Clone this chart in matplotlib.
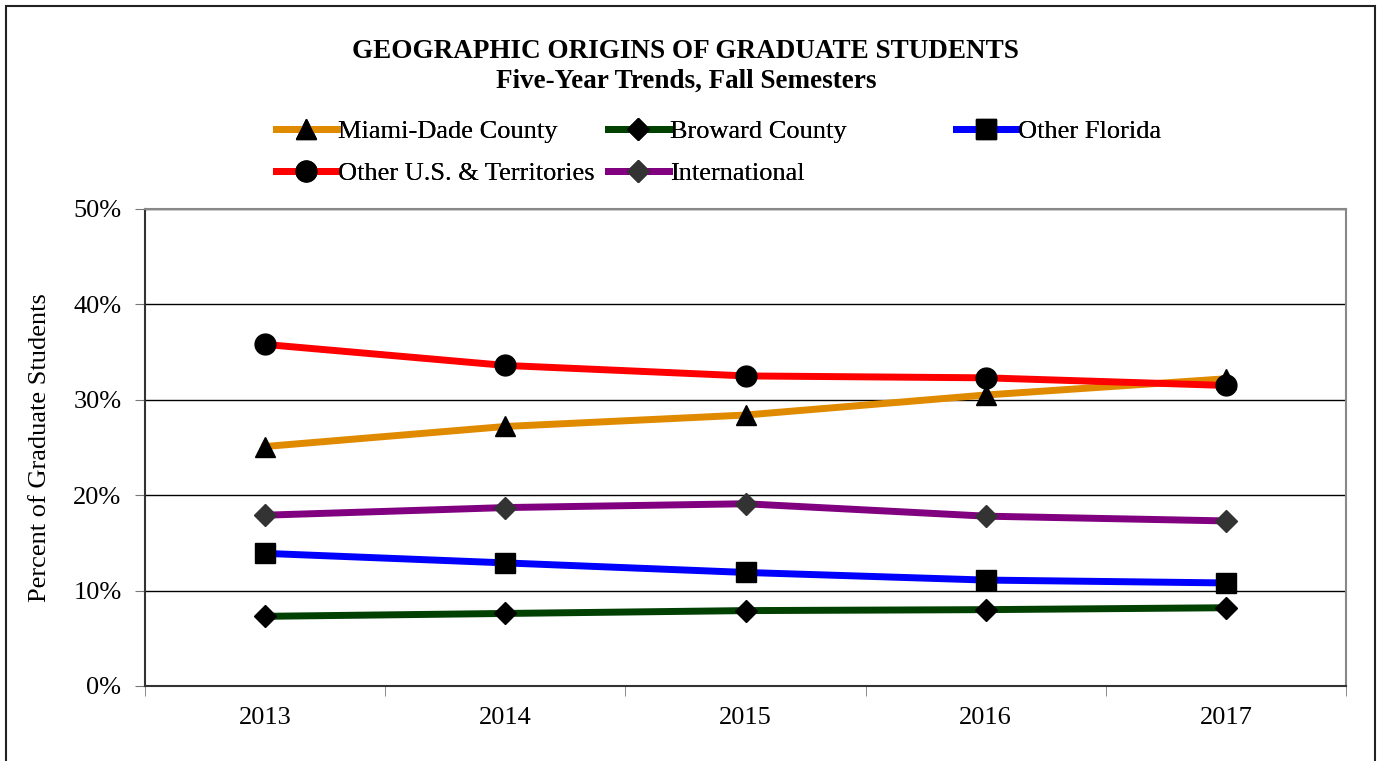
import numpy as np
import matplotlib.pyplot as plt
from matplotlib.patches import Rectangle

plt.rcParams['font.family'] = ['Liberation Serif', 'DejaVu Serif']

# data (percent of graduate students, fall semesters)
years = ["2013", "2014", "2015", "2016", "2017"]
miami_dade = [25.1, 27.2, 28.4, 30.5, 32.2]
broward = [7.3, 7.6, 7.9, 8.0, 8.2]
other_florida = [13.9, 12.9, 11.9, 11.1, 10.8]
other_us = [35.8, 33.6, 32.5, 32.3, 31.5]
international = [17.9, 18.7, 19.1, 17.8, 17.3]

fig = plt.figure(figsize=(13.8, 7.61), dpi=100)
ax = fig.add_axes([0.1051, 0.0986, 0.8703, 0.6268])

# outer chart frame
fig.patches.append(Rectangle((6 / 1380, -0.05), (1375 - 6) / 1380, 1 - 6 / 761 + 0.05,
                             transform=fig.transFigure, fill=False,
                             edgecolor="#222222", linewidth=1.5))

x = np.arange(len(years))
lw = 5
ms = 14

l_miami, = ax.plot(x, miami_dade, color="#E08A00", linewidth=lw, marker="^",
                   markersize=ms, markerfacecolor="black", markeredgecolor="black",
                   label="Miami-Dade County", zorder=3)
l_brow, = ax.plot(x, broward, color="#004000", linewidth=lw, marker="D",
                  markersize=ms - 3, markerfacecolor="black", markeredgecolor="black",
                  label="Broward County", zorder=3)
l_fl, = ax.plot(x, other_florida, color="#0000FF", linewidth=lw, marker="s",
                markersize=ms, markerfacecolor="black", markeredgecolor="black",
                label="Other Florida", zorder=3)
l_us, = ax.plot(x, other_us, color="#FF0000", linewidth=lw, marker="o",
                markersize=ms + 1, markerfacecolor="black", markeredgecolor="black",
                label="Other U.S. & Territories", zorder=4)
l_int, = ax.plot(x, international, color="#800080", linewidth=lw, marker="D",
                 markersize=ms - 3, markerfacecolor="#333333", markeredgecolor="#333333",
                 label="International", zorder=3)

ax.set_xlim(-0.5, len(years) - 0.5)
ax.set_ylim(0, 50)
ax.set_yticks(np.arange(0, 51, 10))
ax.set_yticklabels([f"{v}%" for v in range(0, 51, 10)], fontsize=19)
ax.set_xticks(x)
ax.set_xticklabels(years, fontsize=19)
ax.set_xticks(np.arange(-0.5, len(years), 1), minor=True)
ax.tick_params(axis="x", which="major", length=0, pad=15)
ax.tick_params(axis="x", which="minor", length=7, color="#777777", direction="out")
ax.tick_params(axis="y", length=7, color="#777777", direction="out", pad=10)

ax.grid(axis="y", color="black", linewidth=1)
ax.set_axisbelow(True)
for side in ["top", "right"]:
    ax.spines[side].set_color("#888888")
    ax.spines[side].set_linewidth(1.5)
for side in ["left", "bottom"]:
    ax.spines[side].set_color("#333333")
    ax.spines[side].set_linewidth(1.5)

ax.set_ylabel("Percent of Graduate Students", fontsize=19, labelpad=16)

fig.text(0.497, 0.932, "GEOGRAPHIC ORIGINS OF GRADUATE STUDENTS", ha="center",
         va="center", fontsize=19.5, fontweight="bold")
fig.text(0.497, 0.893, "Five-Year Trends, Fall Semesters", ha="center",
         va="center", fontsize=19.5, fontweight="bold")

# legend: three columns placed like the original
cols = [([l_miami, l_us], 276), ([l_brow, l_int], 608), ([l_fl], 956)]
for handles, xpix in cols:
    leg = fig.legend(handles=handles, loc="upper left",
                     bbox_to_anchor=(xpix / 1380, 1 - 120 / 761),
                     frameon=False, fontsize=19, handlelength=2.3,
                     handletextpad=0.05, labelspacing=0.7, borderaxespad=0,
                     borderpad=0)
    fig.add_artist(leg)

fig.savefig("out.png", dpi=100)
